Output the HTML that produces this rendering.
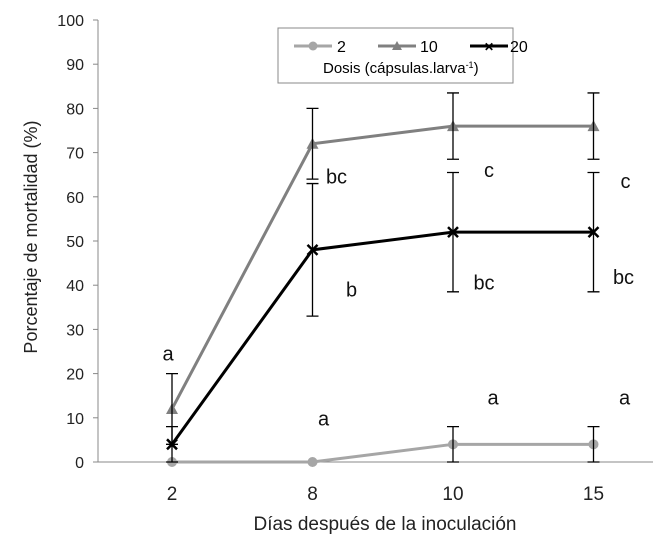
<!DOCTYPE html>
<html><head><meta charset="utf-8"><style>
body{margin:0;background:#fff;}
svg{display:block;font-family:"Liberation Sans",Arial,sans-serif;}
</style></head><body>
<svg id="chart" width="653" height="549" viewBox="0 0 653 549">
<g id="axes"></g><g id="marks"></g>
<g>
<rect x="278" y="28" width="235" height="55" fill="#fff" stroke="#888" stroke-width="1"/>
<line x1="294" y1="46" x2="332" y2="46" stroke="#a6a6a6" stroke-width="3"/>
<circle cx="313" cy="46" r="4.5" fill="#a6a6a6"/>
<text x="337" y="52" font-size="16">2</text>
<line x1="378" y1="46" x2="416" y2="46" stroke="#808080" stroke-width="3"/>
<polygon points="397,41 402,50 392,50" fill="#808080"/>
<text x="420" y="52" font-size="16">10</text>
<line x1="470" y1="46" x2="508" y2="46" stroke="#000" stroke-width="3"/>
<text x="489" y="51" font-size="12" text-anchor="middle" font-weight="bold">✕</text>
<text x="510" y="52" font-size="16">20</text>
<text x="323" y="73" font-size="15">Dosis (cápsulas.larva<tspan font-size="9" dy="-5">-1</tspan><tspan dy="5">)</tspan></text>
</g>
<text x="385" y="530" font-size="19" text-anchor="middle" fill="#222">Días después de la inoculación</text>
<text transform="translate(37,237) rotate(-90)" font-size="18" text-anchor="middle" fill="#222">Porcentaje de mortalidad (%)</text>
</svg>
<script>
const categories=["2","8","10","15"];
const yTicks=[0,10,20,30,40,50,60,70,80,90,100];
const s2=[0,0,4,4];
const s2err=[0,0,4,4];
const s10=[12,72,76,76];
const s10err=[8,8,7.5,7.5];
const s20=[4,48,52,52];
const s20err=[4,15,13.5,13.5];
const letterText=["a","bc","b","a","c","bc","a","c","bc","a"];
const letterCat=[0,1,1,1,2,2,2,3,3,3];
const letterVal=[23,63,37.5,8.3,64.5,39,13,62,40.3,13];
const NS="http://www.w3.org/2000/svg";
const x0=98,x1=653,yB=462,yT=20;
const xc=i=>172+i*140.5;
const y=v=>yB-(v/100)*(yB-yT);
function mk(p,t,a){const e=document.createElementNS(NS,t);for(const k in a)e.setAttribute(k,a[k]);p.appendChild(e);return e;}
const ax=document.getElementById('axes'),mg=document.getElementById('marks');
const ya=mk(ax,'line',{x1:x0,y1:yT,x2:x0,y2:yB,stroke:'#888'});


const xa=mk(ax,'line',{x1:x0,y1:yB,x2:x1,y2:yB,stroke:'#888'});


yTicks.forEach(t=>{mk(ax,'line',{x1:x0-5,y1:y(t),x2:x0,y2:y(t),stroke:'#888'});
const tx=mk(ax,'text',{x:84,y:y(t)+6,'font-size':16,'text-anchor':'end',fill:'#222'});tx.textContent=t;

});
categories.forEach((c,i)=>{const tx=mk(ax,'text',{x:xc(i),y:500,'font-size':19,'text-anchor':'middle',fill:'#222'});tx.textContent=c;

});
function series(vals,errs,col,w,marker,name){
const g=mk(mg,'g',{});


mk(g,'polyline',{points:vals.map((v,i)=>xc(i)+','+y(v)).join(' '),fill:'none',stroke:col,'stroke-width':w});
vals.forEach((v,i)=>{const cx=xc(i),cy=y(v);
if(marker==='c')mk(g,'circle',{cx,cy,r:5,fill:col});
else if(marker==='t')mk(g,'polygon',{points:`${cx},${cy-6} ${cx+6},${cy+5} ${cx-6},${cy+5}`,fill:col});
else{mk(g,'path',{d:`M${cx-5},${cy-5}L${cx+5},${cy+5}M${cx+5},${cy-5}L${cx-5},${cy+5}`,stroke:'#000','stroke-width':2.5});}
const e=errs[i];if(e>0){const a=y(v+e),b=y(v-e);
mk(g,'path',{d:`M${cx},${a}V${b}M${cx-6},${a}H${cx+6}M${cx-6},${b}H${cx+6}`,stroke:'#000','stroke-width':1.3,fill:'none'});}});}
series(s2,s2err,'#a6a6a6',3,'c','series-2');
series(s10,s10err,'#808080',3,'t','series-10');
series(s20,s20err,'#000',3,'x','series-20');
const offs=[-4,24,39,11,36,31,40,32,30,31];
letterText.forEach((t,i)=>{const tx=mk(mg,'text',{x:xc(letterCat[i])+offs[i],y:y(letterVal[i]),'font-size':20,'text-anchor':'middle',fill:'#111'});tx.textContent=t;

});
</script>
</body></html>
